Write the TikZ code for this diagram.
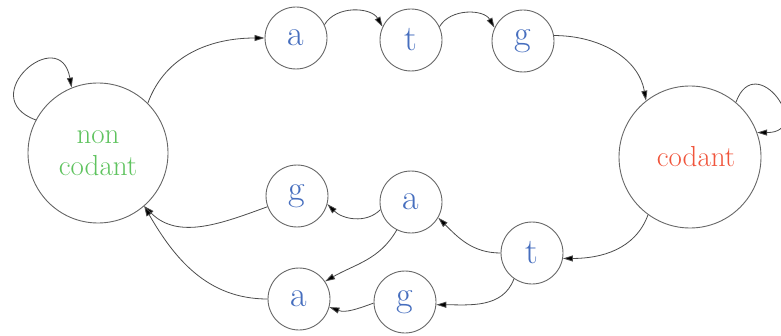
\documentclass[tikz,border=0pt]{standalone}
\usetikzlibrary{arrows.meta}
\definecolor{ncgreen}{RGB}{95,195,95}
\definecolor{cdred}{RGB}{240,85,60}
\definecolor{nblue}{RGB}{70,110,190}
\begin{document}
\begin{tikzpicture}[x=1pt,y=1pt,
  state/.style={circle,draw=black!60,line width=0.9pt,inner sep=0pt},
  big/.style={state,minimum size=140pt,font=\fontsize{29}{32}\selectfont},
  base/.style={state,minimum size=62pt,text=nblue,font=\fontsize{36}{36}\selectfont},
  every edge/.style={draw=black!70,line width=0.8pt,-{Triangle[length=10pt,width=6pt,fill=black]}}]
\useasboundingbox (0,0) rectangle (781,335);
\node[big,text=ncgreen,align=center] (nc) at (98,182) {non\\codant};
\node[big,minimum size=142pt,text=cdred] (cd) at (690,178) {\hspace{12pt}codant};
% top strand
\node[base] (a1) at (296,297) {a};
\node[base] (t1) at (411,295) {t};
\node[base] (g1) at (523,294) {g};
% bottom strands
\node[base] (g2) at (297,139) {g};
\node[base] (a2) at (411,133) {a};
\node[base] (t2) at (532,82) {t};
\node[base] (a3) at (299,36) {a};
\node[base] (g3) at (405,33) {g};
\draw (nc.45) edge[out=70,in=180] (a1.180)
      (a1.25) edge[out=60,in=120] (t1.155)
      (t1.25) edge[out=60,in=120] (g1.155)
      (g1.10) edge[out=0,in=100] (cd.128)
      (cd.234) edge[out=250,in=0] (t2.-10)
      (t2.180) edge[out=180,in=-45] (a2.-30)
      (t2.235) edge[out=250,in=0] (g3.-5)
      (a2.194) edge[out=225,in=-45] (g2.-15)
      (a2.243) edge[out=240,in=30] (a3.34)
      (g3.182) edge[out=200,in=-20] (a3.-15)
      (g2.200) edge[out=200,in=-45] (nc.-49)
      (a3.180) edge[out=180,in=-60] (nc.-49)
      (nc.152) edge[out=160,in=100,looseness=3.5] (nc.112)
      (cd.50) edge[out=70,in=0,looseness=4] (cd.20);
\end{tikzpicture}
\end{document}
